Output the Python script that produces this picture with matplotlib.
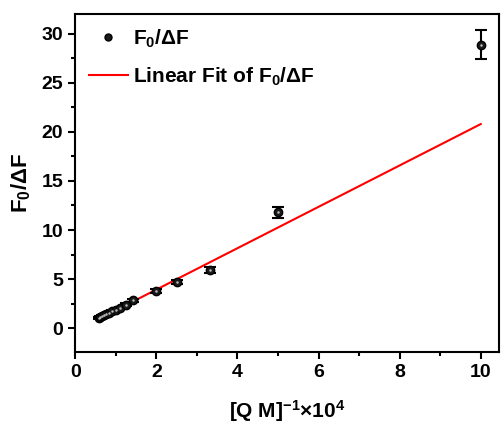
import matplotlib
matplotlib.use("Agg")
import matplotlib.pyplot as plt
from matplotlib.lines import Line2D
from matplotlib.ticker import MultipleLocator

plt.rcParams['font.family'] = ['Liberation Sans', 'DejaVu Sans']
plt.rcParams['font.weight'] = 'bold'
plt.rcParams['mathtext.fontset'] = 'custom'
plt.rcParams['mathtext.rm'] = 'Liberation Sans:bold'
plt.rcParams['mathtext.bf'] = 'Liberation Sans:bold'
plt.rcParams['mathtext.it'] = 'Liberation Sans:bold'

# Stern-Volmer style data: inverse quencher concentration vs F0/dF
inv_q = [0.59, 0.625, 0.67, 0.71, 0.77, 0.83, 0.91, 1.0, 1.11, 1.25, 1.43, 2.0, 2.5, 3.33, 5.0, 10.0]
f_ratio = [1.05, 1.1, 1.2, 1.3, 1.4, 1.55, 1.7, 1.85, 2.1, 2.4, 2.85, 3.8, 4.7, 5.9, 11.8, 28.9]
f_err = [0.1, 0.1, 0.1, 0.1, 0.1, 0.1, 0.1, 0.1, 0.1, 0.15, 0.15, 0.2, 0.25, 0.3, 0.55, 1.5]

# linear fit end points
fit_x = [0.59, 10.0]
fit_y = [0.95, 20.8]

fig = plt.figure(figsize=(5.01, 4.30), dpi=100)
ax = fig.add_axes([0.150, 0.181, 0.846, 0.786])

ax.errorbar(inv_q, f_ratio, yerr=f_err, fmt='none', ecolor='black',
            elinewidth=1.5, capsize=4, capthick=1.5, zorder=3)
ax.plot(inv_q, f_ratio, 'o', ms=6, mfc='#1a1a1a', mec='black', mew=1, zorder=4)
ax.plot(inv_q, f_ratio, 'o', ms=1.8, mfc='#bbbbbb', mec='none', zorder=5)
fit, = ax.plot(fit_x, fit_y, color='red', lw=1.5, zorder=2)

ax.set_xlim(0, 10.45)
ax.set_ylim(-2.45, 32)
ax.xaxis.set_major_locator(MultipleLocator(2))
ax.xaxis.set_minor_locator(MultipleLocator(1))
ax.yaxis.set_major_locator(MultipleLocator(5))
ax.yaxis.set_minor_locator(MultipleLocator(2.5))
ax.tick_params(which='major', direction='out', length=5, width=1.5, labelsize=14)
ax.tick_params(which='minor', direction='out', length=3, width=1.5)
for s in ax.spines.values():
    s.set_linewidth(1.5)

ax.set_xlabel(r'[Q M]$^{-1}$×10$^{4}$', fontsize=15, fontweight='bold', labelpad=12)
ax.set_ylabel(r'F$_0$/ΔF', fontsize=16, fontweight='bold', labelpad=6)

pt_handle = Line2D([], [], ls='none', marker='o', ms=5, mfc='#1a1a1a', mec='black')
ax.legend([pt_handle, fit], [r'F$_0$/ΔF', r'Linear Fit of F$_0$/ΔF'], loc='upper left',
          frameon=False, fontsize=15, handlelength=1.9, borderaxespad=0.2,
          labelspacing=0.75, handletextpad=0.25, borderpad=0.45)

fig.savefig('out.png', dpi=100)
